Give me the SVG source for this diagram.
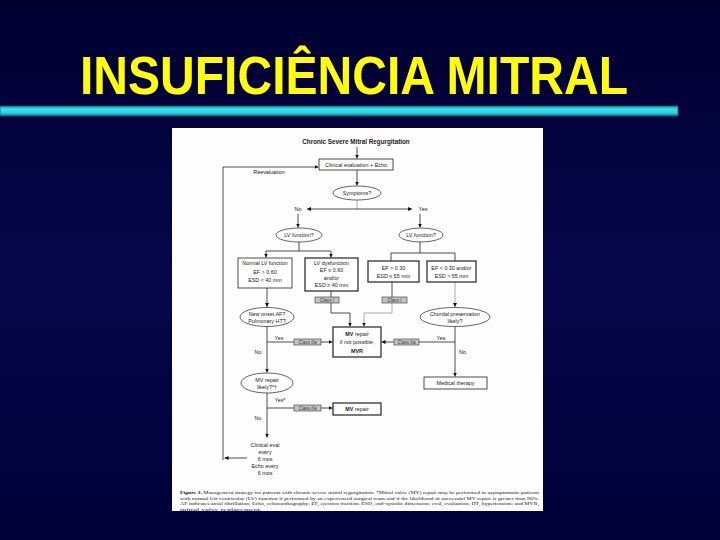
<svg xmlns="http://www.w3.org/2000/svg" width="720" height="540" viewBox="0 0 720 540">
<defs>
<linearGradient id="bg" x1="0" y1="0" x2="0" y2="1">
<stop offset="0" stop-color="#000030"/>
<stop offset="0.5" stop-color="#06064a"/>
<stop offset="1" stop-color="#000038"/>
</linearGradient>
<linearGradient id="bar" x1="0" y1="0" x2="0" y2="1">
<stop offset="0" stop-color="#2a7f8f"/>
<stop offset="0.3" stop-color="#33e6f2"/>
<stop offset="0.7" stop-color="#22d4e4"/>
<stop offset="1" stop-color="#1a6878"/>
</linearGradient>
<marker id="ah" viewBox="0 0 6 6" refX="6" refY="3" markerWidth="4" markerHeight="4" orient="auto" markerUnits="userSpaceOnUse">
<path d="M0,0 L6,3 L0,6 z" fill="#111"/>
</marker>
<style>
.t{font-family:"Liberation Sans",Arial,sans-serif;font-size:5.4px;fill:#222;text-anchor:middle}
.tl{font-family:"Liberation Sans",Arial,sans-serif;font-size:5.4px;fill:#222}
.b{font-weight:bold}
.box{fill:#fff;stroke:#222;stroke-width:0.8}
.bx2{fill:#fff;stroke:#333;stroke-width:1.3}
.ell{fill:#fff;stroke:#222;stroke-width:0.7}
.cls{fill:#c4c4c4;stroke:#333;stroke-width:0.6}
.ct{font-family:"Liberation Sans",Arial,sans-serif;font-size:4.6px;font-style:italic;fill:#333;text-anchor:middle}
.ln{fill:none;stroke:#222;stroke-width:0.8}
.lg{fill:none;stroke:#888;stroke-width:0.7}
.cap{font-family:"Liberation Serif","Times New Roman",serif;font-size:4.8px;fill:#222}
</style>
</defs>
<rect x="0" y="0" width="720" height="540" fill="url(#bg)"/>
<text x="354" y="94" font-family="'Liberation Sans',Arial,sans-serif" font-weight="bold" font-size="54" fill="#ffff00" text-anchor="middle" textLength="548" lengthAdjust="spacingAndGlyphs">INSUFICIÊNCIA MITRAL</text>
<rect x="0" y="106" width="678" height="10" fill="url(#bar)" stroke="#1d5f6c" stroke-width="0.8"/>
<rect x="172" y="128" width="371" height="383" fill="#fdfdfd"/>

<g id="connectors">
<line class="ln" x1="357" y1="147" x2="357" y2="158.5" marker-end="url(#ah)"/>
<line class="ln" x1="357" y1="170" x2="357" y2="185.5" marker-end="url(#ah)"/>
<line class="lg" x1="357" y1="200" x2="357" y2="209"/>
<line class="ln" x1="357" y1="209" x2="307" y2="209" marker-end="url(#ah)"/>
<line class="ln" x1="357" y1="209" x2="412" y2="209" marker-end="url(#ah)"/>
<line class="ln" x1="298" y1="214" x2="298" y2="227.5" marker-end="url(#ah)"/>
<line class="ln" x1="420" y1="214" x2="420" y2="227.5" marker-end="url(#ah)"/>
<polyline class="ln" points="299,242 299,251"/>
<line class="ln" x1="266" y1="251" x2="331" y2="251"/>
<line class="ln" x1="266" y1="251" x2="266" y2="257.5" marker-end="url(#ah)"/>
<line class="ln" x1="331" y1="251" x2="331" y2="257.5" marker-end="url(#ah)"/>
<polyline class="ln" points="420,242 420,253"/>
<line class="ln" x1="391" y1="253" x2="455" y2="253"/>
<line class="ln" x1="391" y1="253" x2="391" y2="261"/>
<line class="ln" x1="455" y1="253" x2="455" y2="261"/>
<line class="ln" x1="331" y1="291" x2="331" y2="297"/>
<polyline class="ln" points="331,303 331,313 350,313 350,326.5" marker-end="url(#ah)"/>
<line class="ln" x1="392" y1="282" x2="392" y2="297"/>
<polyline class="lg" points="392,303 392,313 364,313 364,326.5" marker-end="url(#ah)"/>
<line class="ln" x1="267" y1="288" x2="267" y2="307" marker-end="url(#ah)"/>
<line class="lg" x1="455" y1="282" x2="455" y2="307" marker-end="url(#ah)"/>
<line class="ln" x1="267" y1="326.5" x2="267" y2="372.5" marker-end="url(#ah)"/>
<line class="ln" x1="267" y1="342" x2="294" y2="342"/>
<line class="ln" x1="321" y1="342" x2="332.5" y2="342" marker-end="url(#ah)"/>
<line class="ln" x1="455" y1="326.5" x2="455" y2="376.5" marker-end="url(#ah)"/>
<line class="ln" x1="455" y1="342" x2="419" y2="342"/>
<line class="ln" x1="394" y1="342" x2="381.5" y2="342" marker-end="url(#ah)"/>
<line class="ln" x1="267" y1="393" x2="267" y2="437.5" marker-end="url(#ah)"/>
<line class="ln" x1="267" y1="408" x2="294" y2="408"/>
<line class="ln" x1="321" y1="408" x2="332.5" y2="408" marker-end="url(#ah)"/>
<line class="ln" x1="247" y1="458" x2="224.5" y2="458" marker-end="url(#ah)"/>
<polyline class="ln" points="223,460 223,167 318.5,167" marker-end="url(#ah)"/>
</g>

<g id="title-node"><text class="t b" x="356" y="144" style="font-size:6.3px">Chronic Severe Mitral Regurgitation</text></g>
<g id="clinical-eval"><rect class="box" x="319" y="159" width="74" height="11"/><text class="t" x="356" y="166.5">Clinical evaluation + Echo</text></g>
<g id="reevaluation"><text class="t" x="269" y="174">Reevaluation</text></g>
<g id="symptoms"><ellipse class="ell" cx="357" cy="193" rx="24" ry="7"/><text class="t" x="357" y="195">Symptoms?</text></g>
<g id="no-yes-labels"><text class="t" x="298" y="211">No</text><text class="t" x="423" y="211">Yes</text></g>
<g id="lv-left"><ellipse class="ell" cx="299" cy="235" rx="23" ry="7"/><text class="t" x="299" y="237">LV function?</text></g>
<g id="lv-right"><ellipse class="ell" cx="421" cy="235" rx="22" ry="7"/><text class="t" x="421" y="237">LV function?</text></g>
<g id="normal-lv"><rect class="box" x="238" y="258" width="54" height="30"/><text class="t" x="265" y="265">Normal LV function</text><text class="t" x="265" y="274">EF &gt; 0.60</text><text class="t" x="265" y="282">ESD &lt; 40 mm</text></g>
<g id="lv-dysfunction"><rect class="bx2" x="305" y="258" width="53" height="33"/><text class="t" x="331.5" y="264.5">LV dysfunction</text><text class="t" x="331.5" y="272">EF ≤ 0.60</text><text class="t" x="331.5" y="280">and/or</text><text class="t" x="331.5" y="287">ESD ≥ 40 mm</text></g>
<g id="ef-gt-030"><rect class="bx2" x="368" y="261" width="51" height="21"/><text class="t" x="393.5" y="269.5">EF &gt; 0.30</text><text class="t" x="393.5" y="277.5">ESD ≤ 55 mm</text></g>
<g id="ef-lt-030"><rect class="bx2" x="427" y="261" width="49" height="21"/><text class="t" x="451.5" y="269.5">EF &lt; 0.30 and/or</text><text class="t" x="451.5" y="277.5">ESD &gt; 55 mm</text></g>
<g id="class1-left"><rect class="cls" x="315" y="297" width="24" height="6"/><text class="ct" x="327" y="301.8">Class I</text></g>
<g id="class1-right"><rect class="cls" x="382" y="297" width="25" height="6"/><text class="ct" x="394.5" y="301.8">Class I</text></g>
<g id="new-onset-af"><ellipse class="ell" cx="267" cy="317" rx="27" ry="9.5"/><text class="t" x="267" y="316">New onset AF?</text><text class="t" x="267" y="322.5">Pulmonary HT?</text></g>
<g id="chordal"><ellipse class="ell" cx="455" cy="317" rx="35" ry="9.5"/><text class="t" x="455" y="316">Chordal preservation</text><text class="t" x="455" y="322.5">likely?</text></g>
<g id="mv-repair-mvr"><rect class="bx2" x="333" y="327" width="48" height="30"/><text class="t" x="357" y="335.5"><tspan class="b">MV</tspan> repair</text><text class="t" x="357" y="344">if not possible,</text><text class="t b" x="357" y="352.5">MVR</text></g>
<g id="class2a-1"><rect class="cls" x="294" y="339" width="27" height="6"/><text class="ct" x="307.5" y="343.8">Class IIa</text></g>
<g id="class2a-2"><rect class="cls" x="394" y="339" width="25" height="6"/><text class="ct" x="406.5" y="343.8">Class IIa</text></g>
<g id="labels-mid"><text class="t" x="279" y="340">Yes</text><text class="t" x="258" y="354">No</text><text class="t" x="441" y="340">Yes</text><text class="tl" x="459" y="354">No</text></g>
<g id="medical-therapy"><rect class="box" x="424" y="377" width="63" height="12"/><text class="t" x="455.5" y="385">Medical therapy</text></g>
<g id="mv-repair-likely"><ellipse class="ell" cx="267" cy="383" rx="26" ry="10"/><text class="t" x="267" y="381.5">MV repair</text><text class="t" x="267" y="388.5">likely?*†</text></g>
<g id="class2a-3"><rect class="cls" x="294" y="405" width="27" height="6"/><text class="ct" x="307.5" y="409.8">Class IIa</text></g>
<g id="mv-repair"><rect class="bx2" x="333" y="403" width="48" height="12"/><text class="t" x="357" y="411"><tspan class="b">MV</tspan> repair</text></g>
<g id="labels-low"><text class="t" x="280" y="402">Yes*</text><text class="t" x="258" y="420">No</text></g>
<g id="clinical-followup"><text class="t" x="265" y="447">Clinical eval</text><text class="t" x="265" y="454">every</text><text class="t" x="265" y="461">6 mos</text><text class="t" x="265" y="468">Echo every</text><text class="t" x="265" y="475">6 mos</text></g>
<g id="caption">
<text class="cap" x="180" y="494" textLength="359" lengthAdjust="spacingAndGlyphs"><tspan font-weight="bold">Figure 3.</tspan> Management strategy for patients with chronic severe mitral regurgitation. *Mitral valve (MV) repair may be performed in asymptomatic patients</text>
<text class="cap" x="180" y="499.8" textLength="359" lengthAdjust="spacingAndGlyphs">with normal left ventricular (LV) function if performed by an experienced surgical team and if the likelihood of successful MV repair is greater than 90%.</text>
<text class="cap" x="180" y="505.4" textLength="359" lengthAdjust="spacingAndGlyphs">AF indicates atrial fibrillation; Echo, echocardiography; EF, ejection fraction; ESD, end-systolic dimension; eval, evaluation; HT, hypertension; and MVR,</text>
<text class="cap" x="180" y="510.6" textLength="82" lengthAdjust="spacingAndGlyphs">mitral valve replacement.</text>
</g>
</svg>
